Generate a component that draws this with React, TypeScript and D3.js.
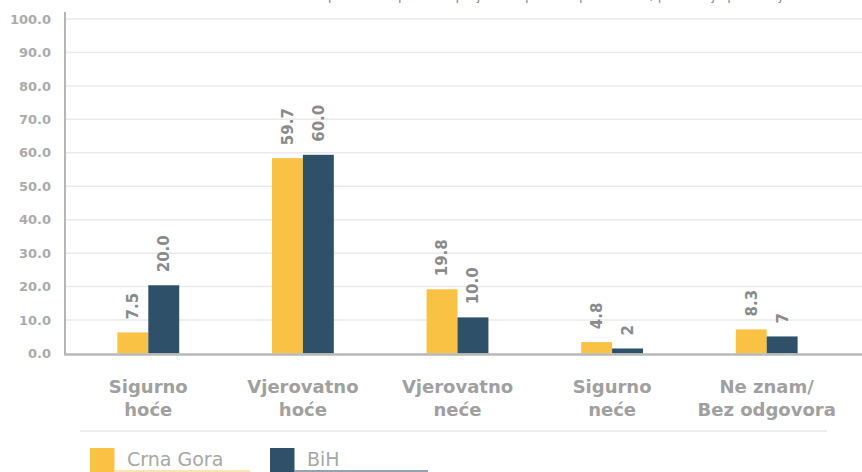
import React from "react";
import * as d3 from "d3";

const categories = ["Sigurno\nhoće", "Vjerovatno\nhoće", "Vjerovatno\nneće", "Sigurno\nneće", "Ne znam/\nBez odgovora"];
const seriesNames = ["Crna Gora", "BiH"];
const crnaGoraBars = [6.3, 58.4, 19.2, 3.4, 7.2];
const bihBars = [20.4, 59.4, 10.8, 1.5, 5.1];
const crnaGoraLabels = ["7.5", "59.7", "19.8", "4.8", "8.3"];
const bihLabels = ["20.0", "60.0", "10.0", "2", "7"];
const yTicks = [0, 10, 20, 30, 40, 50, 60, 70, 80, 90, 100];
const colors = ["#F9C244", "#2E5169"];
const underlineColors = ["#F8DC90", "#6F8595"];
const title = "Da li ćete se pridružiti i podržati projekat u periodu pred nama, poređenje po zemljama";

export default function App() {
  const W = 862, H = 472;
  const y = d3.scaleLinear().domain([0, 100]).range([353.5, 19]);
  const x0 = d3.scaleBand<string>().domain(categories).range([71, 844]).paddingInner(0.6).paddingOuter(0.3);
  const x1 = d3.scaleBand<string>().domain(seriesNames).range([0, x0.bandwidth()]);
  const series = [
    { name: seriesNames[0], vals: crnaGoraBars, labels: crnaGoraLabels, color: colors[0] },
    { name: seriesNames[1], vals: bihBars, labels: bihLabels, color: colors[1] },
  ];
  const tickFmt = d3.format(".1f");
  const legendX = [90, 270];
  return (
    <svg width={W} height={H} style={{ position: "absolute", left: 0, top: 0, background: "#fff" }}>
      <text x={527} y={-0.5} textAnchor="middle" fontFamily="DejaVu Sans" fontSize={13} fill="#8A8A8A">{title}</text>
      {yTicks.map((t) => (
        <g key={t}>
          {t > 0 && <line x1={66} x2={862} y1={y(t)} y2={y(t)} stroke="#EAEAEA" strokeWidth={1.5} />}
          <text x={51} y={y(t)} dy="0.36em" textAnchor="end" fontFamily="DejaVu Sans" fontWeight="bold" fontSize={13} fill="#ABABAB">{tickFmt(t)}</text>
        </g>
      ))}
      {categories.map((c, i) => (
        <g key={c} transform={`translate(${x0(c)},0)`}>
          {series.map((s) => {
            const bx = x1(s.name)!;
            const bw = x1.bandwidth();
            const top = y(s.vals[i]);
            return (
              <g key={s.name}>
                <rect x={bx} y={top} width={bw} height={y(0) - top} fill={s.color} />
                <text transform={`translate(${bx + bw / 2},${top - 13}) rotate(-90)`} dy="0.36em" textAnchor="start" fontFamily="DejaVu Sans" fontWeight="bold" fontSize={15} fill="#8A8A8A">{s.labels[i]}</text>
              </g>
            );
          })}
        </g>
      ))}
      <line x1={65} x2={65} y1={12} y2={355} stroke="#B5B5B5" strokeWidth={2} />
      <line x1={64} x2={862} y1={354.5} y2={354.5} stroke="#B8B8B8" strokeWidth={2.5} />
      {categories.map((c) => {
        const cx = x0(c)! + x0.bandwidth() / 2;
        return (
          <text key={c} x={cx} y={393} textAnchor="middle" fontFamily="DejaVu Sans" fontWeight="bold" fontSize={18} fill="#A0A0A0">
            {c.split("\n").map((l, k) => (
              <tspan key={k} x={cx} dy={k === 0 ? 0 : 23}>{l}</tspan>
            ))}
          </text>
        );
      })}
      <line x1={80} x2={827} y1={431} y2={431} stroke="#E8E8E8" strokeWidth={1.5} />
      {series.map((s, i) => (
        <g key={s.name}>
          <rect x={legendX[i]} y={448} width={24.5} height={24} fill={s.color} />
          <text x={legendX[i] + 37} y={466} fontFamily="DejaVu Sans" fontSize={19} fill="#A8A8A8">{s.name}</text>
          <line x1={legendX[i] + 24.5} x2={legendX[i] + (i === 0 ? 160 : 158)} y1={471} y2={471} stroke={underlineColors[i]} strokeWidth={1.5} />
        </g>
      ))}
    </svg>
  );
}
